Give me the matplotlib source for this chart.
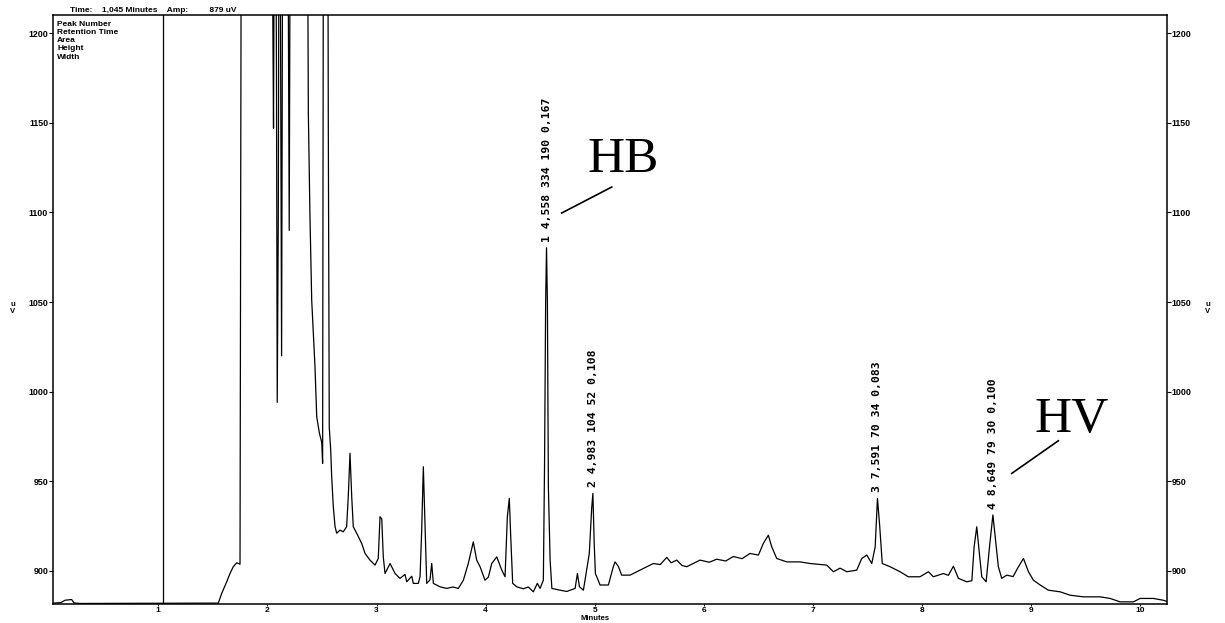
import matplotlib
matplotlib.use("Agg")
import matplotlib.pyplot as plt

# ---------------- data ----------------
times = [0.00, 0.108, 0.145, 0.206, 0.227, 0.282, 1.550, 1.581, 1.627, 1.657, 1.687, 1.719, 1.749, 1.764,
         1.770, 2.030, 2.056, 2.070, 2.083, 2.090, 2.100, 2.110, 2.130, 2.145, 2.180, 2.200, 2.215,
         2.360, 2.375, 2.390, 2.406, 2.436, 2.452, 2.476, 2.498, 2.506, 2.516, 2.550, 2.558, 2.567,
         2.580, 2.589, 2.604, 2.620, 2.635, 2.665, 2.695, 2.726, 2.741, 2.757, 2.773, 2.787, 2.819,
         2.864, 2.895, 2.940, 2.986, 3.016, 3.032, 3.048, 3.062, 3.078, 3.124, 3.170, 3.215, 3.261,
         3.277, 3.323, 3.337, 3.383, 3.399, 3.414, 3.429, 3.445, 3.460, 3.490, 3.506, 3.521, 3.582,
         3.643, 3.701, 3.750, 3.796, 3.841, 3.887, 3.918, 3.949, 3.994, 4.025, 4.056, 4.102, 4.148,
         4.178, 4.199, 4.217, 4.230, 4.248, 4.285, 4.346, 4.391, 4.437, 4.474, 4.499, 4.529, 4.540,
         4.550, 4.558, 4.566, 4.575, 4.591, 4.607, 4.683, 4.744, 4.820, 4.841, 4.860, 4.896, 4.950,
         4.972, 4.983, 4.995, 5.006, 5.049, 5.125, 5.170, 5.186, 5.216, 5.247, 5.323, 5.415, 5.537,
         5.600, 5.660, 5.700, 5.752, 5.800, 5.843, 5.965, 6.050, 6.118, 6.200, 6.270, 6.350, 6.423,
         6.500, 6.545, 6.591, 6.622, 6.668, 6.760,
         6.882, 6.973, 7.126, 7.187, 7.248, 7.310, 7.401, 7.447, 7.493, 7.539, 7.570, 7.591, 7.612,
         7.635, 7.707, 7.798, 7.874, 7.981, 8.058, 8.103, 8.195, 8.241, 8.287, 8.333, 8.410, 8.456,
         8.477, 8.501, 8.525, 8.547, 8.587, 8.618, 8.649, 8.670, 8.699, 8.730, 8.776, 8.834, 8.883,
         8.929, 8.975, 9.020, 9.082, 9.158, 9.265, 9.357, 9.478, 9.632, 9.723, 9.815, 9.937, 9.998,
         10.120, 10.210, 10.240]
signal = [881.8, 882.3, 883.6, 884.0, 882.1, 881.8, 882.0, 887.4, 893.9, 898.5, 902.3, 904.5, 903.7, 1400,
          1400, 1400, 1147, 1400, 1180, 994, 1100, 1400, 1020, 1400, 1400, 1090, 1400,
          1400, 1156, 1098, 1051, 1014, 986, 977, 971.6, 960, 1400, 1400, 1150, 980,
          967.6, 952.6, 935.8, 924.6, 921.0, 922.7, 921.8, 924.6, 941.3, 965.6, 941.0, 924.6, 920.9,
          915.3, 909.7, 906.0, 903.2, 906.9, 930.2, 929.0, 907.8, 898.5, 904.1, 898.5, 895.8, 898.0,
          893.9, 897.0, 893.0, 893.0, 896.7, 922.7, 958.1, 924.6, 893.0, 895.0, 904.1, 893.0, 891.1,
          890.2, 891.0, 890.2, 894.8, 904.1, 916.2, 906.0, 902.3, 894.8, 896.5, 904.1, 907.8, 900.4,
          896.7, 930.2, 940.4, 919.0, 893.0, 891.1, 890.0, 891.0, 888.3, 893.0, 890.2, 894.8, 960.0,
          1050, 1080.3, 1050, 946.9, 906.0, 890.2, 889.2, 888.5, 890.2, 898.5, 891.1, 889.2, 909.7,
          935.0, 943.2, 915.3, 898.5, 892.1, 892.1, 902.3, 905.0, 902.5, 897.6, 897.6, 900.4, 904.1,
          903.5, 907.5, 904.5, 906.0, 903.0, 902.3, 906.0, 904.8, 906.5, 905.5, 908.0, 906.8, 909.7,
          908.8, 915.3, 919.9, 913.4, 906.9, 905.0,
          905.0, 904.1, 903.2, 899.5, 901.5, 899.5, 900.4, 906.9, 908.8, 904.1, 913.4, 940.4, 924.6,
          904.1, 902.3, 899.5, 896.7, 896.7, 899.5, 896.7, 898.5, 897.5, 902.6, 895.8, 893.9, 894.5,
          913.4, 924.6, 909.7, 896.7, 893.9, 913.4, 931.2, 919.0, 902.3, 895.8, 897.6, 896.8, 902.3,
          906.9, 899.5, 894.8, 892.1, 889.2, 888.3, 886.4, 885.5, 885.5, 884.6, 882.7, 882.7, 884.6,
          884.6, 883.6, 883.0]

peak_numbers = [1, 2, 3, 4]
retention_times = [4.558, 4.983, 7.591, 8.649]
areas = [334, 104, 70, 79]
heights = [190, 52, 34, 30]
widths = [0.167, 0.108, 0.083, 0.100]
peak_tops = [1080.3, 943.2, 940.4, 931.2]

y_ticks = [900, 950, 1000, 1050, 1100, 1150, 1200]
x_ticks = [1, 2, 3, 4, 5, 6, 7, 8, 9, 10]
cursor_time = 1.045
header_text = "Time:    1,045 Minutes    Amp:         879 uV"
legend_lines = ["Peak Number", "Retention Time", "Area", "Height", "Width"]

# ---------------- figure ----------------
W, H = 1225, 623
fig = plt.figure(figsize=(W / 100, H / 100), dpi=100)
ax = fig.add_axes([53 / W, 1 - 604 / H, (1166.5 - 53) / W, (604 - 15) / H])

ax.plot(times, signal, color="black", lw=0.9)
ax.axvline(cursor_time, color="black", lw=0.9)

ax.set_xlim(0.035, 10.24)
ax.set_ylim(881.5, 1210.2)

for s in ax.spines.values():
    s.set_linewidth(1.1)

small = dict(family="Liberation Sans", weight="bold", size=6)
tick_font = dict(family="Liberation Sans", weight="bold", size=6.4)
ax.set_yticks(y_ticks)
ax.set_yticklabels([str(v) for v in y_ticks], **tick_font)
ax.set_xticks(x_ticks)
ax.set_xticklabels([str(v) for v in x_ticks], family="Liberation Sans", weight="bold", size=6)
ax.tick_params(axis="y", which="both", left=True, right=True, labelleft=True,
               labelright=True, length=3, width=0.8, pad=0.5, direction="out")
ax.tick_params(axis="x", length=1.5, width=0.8, pad=0.5, direction="out")

# peak labels
for n, rt, a, h, w, top in zip(peak_numbers, retention_times, areas, heights, widths, peak_tops):
    lab = f"{n} {rt:.3f} {a} {h} {w:.3f}".replace(".", ",")
    ax.annotate(lab, xy=(rt, top), xytext=(0, 4.5), textcoords="offset points",
                rotation=90, ha="center", va="bottom",
                family="DejaVu Sans Mono", weight="bold", fontsize=8.2)

# HB / HV annotations
ax.text(5.26, 1122.8, "HB", family="Liberation Serif", fontsize=37, ha="center", va="baseline")
ax.plot([4.697, 5.156], [1099.7, 1114.2], color="black", lw=1.2)
ax.text(9.375, 977.5, "HV", family="Liberation Serif", fontsize=37, ha="center", va="baseline")
ax.plot([8.822, 9.249], [954.4, 972.6], color="black", lw=1.2)

# texts
fig.text(70 / W, 1 - 10.5 / H, header_text, ha="left", va="center", **small)
for i, line in enumerate(legend_lines):
    fig.text(57 / W, 1 - (24 + i * 8.3) / H, line, ha="left", va="center", **small)
fig.text(595 / W, 1 - 619 / H, "Minutes", ha="center", va="center",
         family="Liberation Sans", weight="bold", size=5.5)
unit = dict(family="Liberation Sans", weight="bold", size=5.5)
fig.text(12.7 / W, 1 - 308 / H, "u\nV", ha="center", va="center", linespacing=0.9, **unit)
fig.text(1208 / W, 1 - 308 / H, "u\nV", ha="center", va="center", linespacing=0.9, **unit)

fig.savefig("out.png", dpi=100)
